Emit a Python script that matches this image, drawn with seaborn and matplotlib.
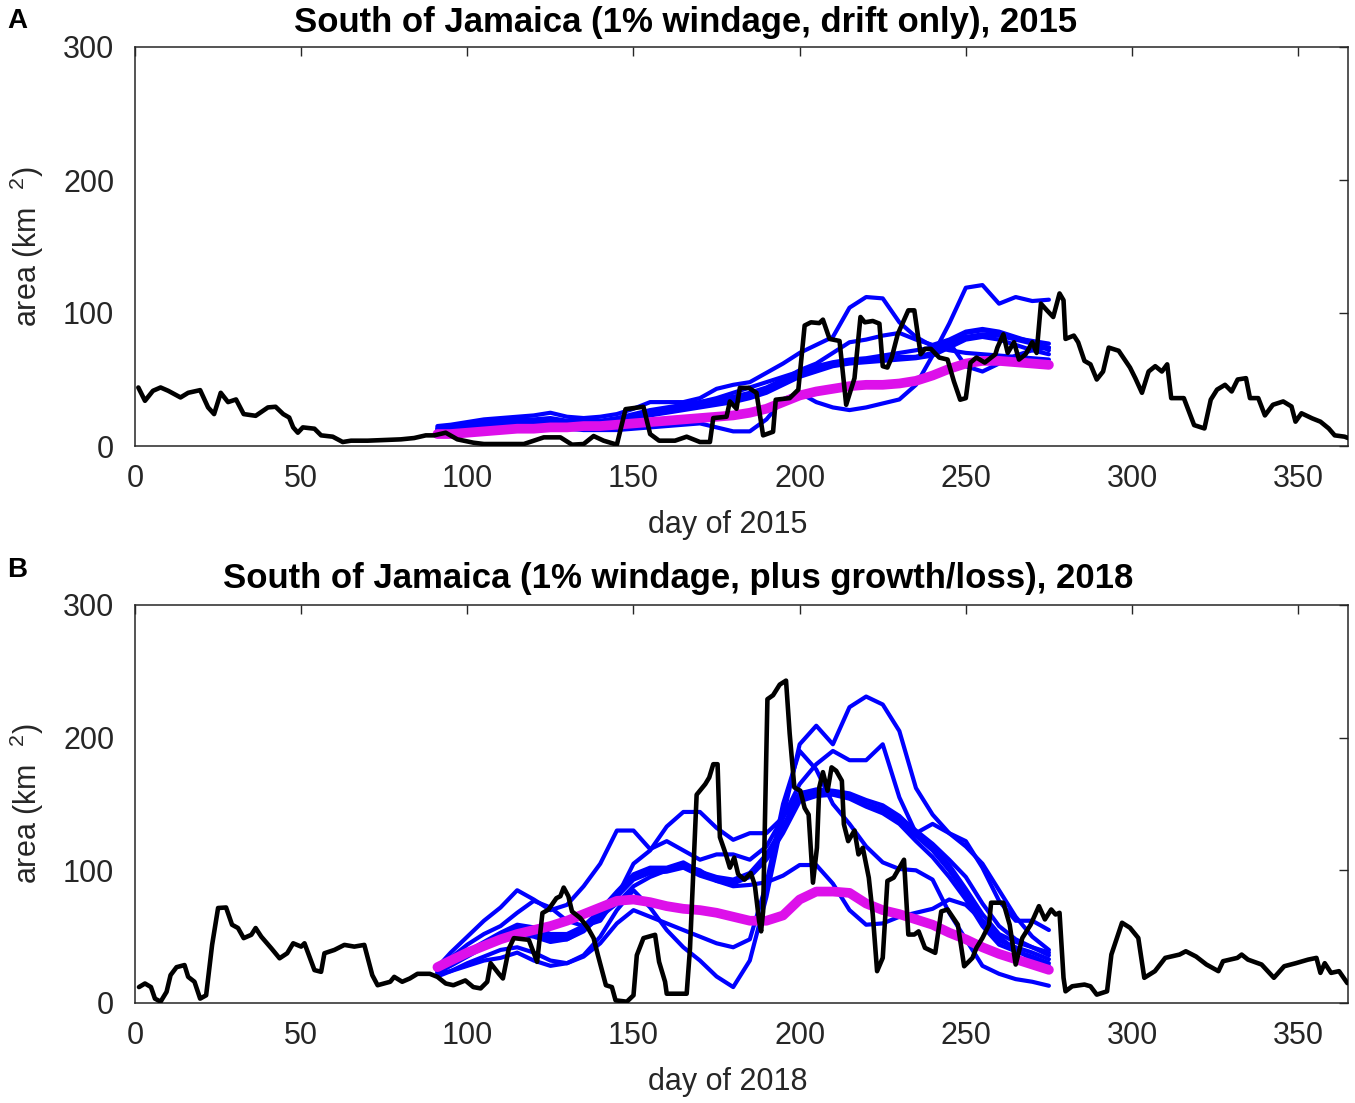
import matplotlib
matplotlib.use("Agg")
import matplotlib.pyplot as plt
import seaborn as sns

# ---------------- data ----------------
XTICKS = [0, 50, 100, 150, 200, 250, 300, 350]
YTICKS = [0, 100, 200, 300]
TITLE_A = "South of Jamaica (1% windage, drift only), 2015"
TITLE_B = "South of Jamaica (1% windage, plus growth/loss), 2018"
YEAR_A = 2015
YEAR_B = 2018

MODEL_DAYS = [91, 95, 100, 105, 110, 115, 120, 125, 130, 135, 140, 145, 150, 155, 160, 165, 170, 175, 180,
              185, 190, 195, 200, 205, 210, 215, 220, 225, 230, 235, 240, 245, 250, 255, 260, 265, 270, 275]

# Panel A: model ensemble members (blue)
A_run1 = [15, 16, 18, 20, 21, 22, 23, 25, 22, 21, 22, 24, 28, 33, 33, 33, 36, 43, 46, 48,
          55, 62, 70, 76, 82, 104, 112, 111, 93, 82, 75, 72, 70, 69, 68, 67, 66, 65]
A_run2 = [11, 11, 12, 12, 13, 13, 13, 14, 13, 12, 12, 12, 13, 14, 15, 16, 17, 14, 11, 11,
          20, 35, 40, 33, 29, 27, 29, 32, 35, 46, 68, 92, 119, 121, 107, 112, 109, 110]
A_run3 = [13, 14, 15, 16, 17, 18, 18, 19, 17, 17, 17, 19, 22, 26, 28, 30, 33, 36, 40, 44,
          48, 52, 56, 60, 63, 65, 66, 68, 70, 72, 74, 78, 60, 56, 62, 68, 72, 74]
A_run4 = [13, 14, 16, 17, 18, 19, 19, 20, 18, 18, 18, 20, 23, 26, 28, 30, 32, 34, 36, 38,
          42, 48, 55, 58, 62, 64, 65, 66, 67, 67, 70, 78, 85, 87, 85, 81, 79, 77]
A_run5 = [12, 13, 15, 16, 17, 18, 18, 19, 17, 17, 17, 19, 21, 24, 26, 28, 30, 32, 34, 37,
          41, 47, 53, 57, 61, 63, 64, 65, 66, 67, 69, 76, 82, 84, 83, 80, 77, 74]
A_run6 = [14, 15, 17, 18, 19, 20, 20, 21, 19, 19, 19, 21, 24, 27, 29, 31, 33, 35, 37, 40,
          44, 50, 57, 62, 70, 78, 80, 83, 85, 80, 76, 80, 86, 88, 86, 82, 78, 72]
A_run7 = [12, 13, 14, 15, 16, 17, 17, 18, 16, 16, 16, 18, 20, 23, 25, 27, 29, 31, 33, 36,
          40, 46, 52, 56, 60, 62, 63, 64, 65, 66, 68, 74, 80, 82, 80, 76, 72, 69]
# Panel A: ensemble mean (magenta)
A_mean = [9, 9, 10, 11, 12, 13, 13, 14, 14, 15, 15, 16, 17, 18, 19, 20, 21, 22, 23, 25,
          28, 33, 38, 41, 43, 45, 46, 46, 47, 49, 53, 58, 62, 64, 64, 63, 62, 61]

# Panel B: model ensemble members (blue)
B_run1 = [22, 24, 28, 32, 34, 38, 32, 28, 30, 36, 50, 70, 85, 72, 55, 42, 32, 20, 12, 32,
          80, 140, 195, 209, 195, 223, 231, 225, 205, 162, 142, 128, 122, 102, 77, 62, 62, 55]
B_run2 = [27, 38, 50, 62, 72, 85, 78, 70, 74, 88, 105, 130, 130, 116, 122, 115, 108, 112, 112, 108,
          118, 140, 165, 180, 190, 183, 183, 195, 155, 128, 135, 128, 118, 105, 85, 65, 50, 40]
B_run3 = [25, 34, 44, 52, 58, 68, 77, 72, 62, 58, 62, 80, 105, 115, 133, 144, 144, 132, 123, 128,
          128, 140, 158, 160, 158, 156, 150, 146, 140, 130, 120, 108, 95, 75, 58, 48, 42, 36]
B_run4 = [24, 30, 38, 45, 52, 58, 55, 50, 50, 56, 68, 82, 95, 100, 100, 104, 97, 93, 91, 96,
          110, 130, 155, 158, 158, 156, 150, 146, 138, 126, 115, 100, 82, 62, 47, 42, 38, 33]
B_run5 = [23, 29, 37, 44, 50, 56, 53, 48, 48, 54, 66, 80, 93, 98, 99, 102, 96, 92, 90, 95,
          108, 128, 152, 156, 157, 154, 148, 143, 135, 122, 110, 95, 78, 58, 44, 39, 35, 30]
B_run6 = [25, 31, 39, 46, 53, 59, 57, 52, 52, 58, 70, 84, 97, 102, 102, 106, 99, 95, 93, 98,
          112, 133, 158, 161, 160, 158, 153, 149, 141, 129, 118, 104, 86, 67, 52, 46, 42, 38]
B_run7 = [23, 28, 35, 42, 48, 52, 50, 46, 48, 55, 65, 75, 88, 95, 100, 104, 100, 92, 88, 89,
          91, 96, 104, 104, 90, 70, 59, 60, 65, 68, 71, 78, 74, 62, 50, 40, 33, 28]
B_run8 = [20, 24, 30, 35, 40, 42, 38, 32, 30, 35, 45, 60, 70, 65, 60, 55, 50, 45, 42, 48,
          90, 150, 190, 176, 150, 135, 118, 106, 101, 100, 93, 68, 48, 28, 22, 18, 16, 13]
# Panel B: ensemble mean (magenta)
B_mean = [27, 32, 38, 43, 48, 52, 55, 58, 62, 67, 72, 77, 78, 76, 73, 71, 70, 68, 65, 62,
          62, 66, 78, 84, 84, 83, 75, 70, 67, 63, 59, 53, 48, 42, 37, 33, 29, 25]

# Observed (satellite) area, black: (day, km2)
OBS_A = [(1, 44), (3, 34), (5.4, 41.5), (7.7, 44), (10, 41.5), (13.7, 36.5), (16, 40), (19.6, 42),
         (22, 29), (23.8, 24), (25.8, 40), (28, 33), (30.4, 35), (32.7, 24), (36.3, 22.7), (40, 29),
         (42.3, 29.5), (44.6, 24), (46.4, 21.4), (47.6, 14), (49, 10), (50.5, 14), (54, 13), (56, 8),
         (59.5, 7), (62.5, 3), (65, 4), (70, 4), (75, 4.5), (80, 5), (84, 6), (87.5, 8), (90, 8),
         (93.5, 10), (97, 5), (101.8, 2.5), (105, 1.5), (110, 1.5), (117, 1.5), (120, 4), (123, 6.5),
         (128, 6.5), (131.5, 1), (135, 1.5), (138, 7.5), (141, 4), (145, 1), (147.6, 27.7), (153, 29.5),
         (155, 9), (157.7, 4), (162.5, 4), (166, 7), (170, 3), (173, 3), (174, 21), (178, 22),
         (179, 33.5), (181, 28), (182, 43.7), (184.7, 43.7), (187, 40), (189, 8), (192, 10.7),
         (192.8, 34.8), (197, 36), (199.6, 42.4), (201.5, 90.6), (203.4, 93), (205.9, 92.4), (207, 95),
         (209, 80.5), (212, 79), (214, 31), (216.5, 51), (218.3, 97), (219.6, 93), (222, 94), (224, 92),
         (225, 60), (226.4, 59), (227.7, 66.5), (229.5, 84), (232.7, 102), (234.5, 102), (236.4, 69),
         (237.7, 73), (239.5, 73), (242, 66.5), (244.5, 65), (246.4, 48.7), (248.3, 34.8), (250, 36),
         (251.4, 62.7), (253.2, 66.5), (255.7, 62.7), (258.9, 69), (259.5, 74), (261.3, 84), (262.6, 70),
         (264.5, 78), (266, 65), (268, 69), (270, 78), (271.3, 70), (272.6, 107), (274.4, 102),
         (276.3, 97), (278.2, 114.7), (279.4, 109.6), (280, 80.5), (282.5, 83), (283.8, 78),
         (285.7, 64), (287.5, 61.4), (289.4, 50), (291.3, 56), (293, 74), (296, 71.6), (299.4, 59),
         (301, 51), (303, 40), (305, 56), (307, 60), (309, 56), (310.6, 61.4), (311.8, 36), (315.6, 36),
         (318.7, 15.7), (321.8, 13.2), (323.7, 34.8), (325.6, 42.4), (328, 46), (330, 41), (331.8, 50),
         (334.3, 51), (335.5, 36), (338, 36), (340, 23), (342.4, 31), (345.5, 33.5), (348, 29.7),
         (349.2, 18.3), (351, 24.6), (354.2, 20.8), (356.7, 18.3), (359.2, 13.2), (361, 8), (364, 7),
         (365, 6)]

OBS_B = [(1.2, 12), (3, 14.7), (4.8, 12), (6, 3.3), (7.7, 1), (9.5, 8.4), (10.7, 21), (12.5, 27),
         (14.9, 28.6), (16, 19.7), (17.9, 16), (19.6, 3.3), (21.4, 5.8), (23.2, 43.8), (25, 71.6),
         (27.4, 72), (29.2, 59), (31, 56.5), (32.7, 48.9), (35, 51.4), (36.3, 56.5), (38, 50),
         (41, 41.3), (43.5, 33.7), (45.8, 37.5), (47.6, 45), (50, 42.5), (51, 45), (54, 24.8),
         (56, 23.5), (57, 37.5), (60, 40), (63, 43.8), (66, 42.5), (69, 43.8), (71.4, 21), (73, 13.4),
         (76.8, 16), (78, 19.7), (80.4, 16), (82.7, 18.5), (85, 22), (88.7, 22), (91, 19.7),
         (93.5, 14.7), (95.8, 13.4), (99.4, 17), (101.8, 12), (104, 11), (106, 16), (107, 30),
         (109.5, 22), (110.7, 18.5), (112.5, 41), (114, 48.9), (118.5, 47.6), (121, 31), (122.6, 67.8),
         (124.4, 70.4), (126.8, 79), (128, 80.5), (129, 87), (130.4, 80.5), (131.5, 69), (134, 64),
         (136.3, 56.5), (138, 48.9), (139.3, 36), (141.7, 13.4), (143.5, 12), (144.6, 2), (148, 1),
         (150, 5.8), (151, 36), (153, 48.9), (156.5, 51.4), (157.7, 31), (159.5, 16), (160, 7),
         (166, 7), (167, 41), (169, 157), (171.6, 165), (172.8, 170), (174, 180), (175.3, 180),
         (176, 125), (177.8, 112), (179, 102), (180.3, 109.6), (181.5, 97), (183.4, 93), (185.3, 98),
         (186.5, 89), (187.8, 61.7), (188.4, 54), (189, 69), (190.3, 229), (192, 232), (194, 240),
         (195.9, 243), (197, 203), (198.4, 162.5), (200.2, 160), (201.5, 147), (202.7, 142),
         (204, 90.7), (205.2, 117), (205.9, 162.5), (207, 174), (208.4, 160), (209.6, 177.6),
         (211, 175), (212.7, 167.5), (213.3, 134.8), (214.6, 122), (216.5, 130), (217.7, 112),
         (219, 117), (220.8, 94.5), (222, 66.7), (223.3, 24), (225, 34), (226.4, 92), (228.3, 94.5),
         (231.4, 108), (232.7, 51.6), (234.5, 51.6), (235.8, 54), (237.7, 41.6), (240.8, 37.8),
         (242.6, 69), (244.5, 70.5), (247.6, 59), (249.5, 27.7), (252, 34), (253.2, 41.6), (255, 49),
         (257, 59), (257.6, 75.6), (261.3, 75.6), (263.2, 59), (265, 29), (267, 49), (269.5, 59),
         (272, 73), (273.8, 63), (275.7, 70.5), (277, 66.7), (278.2, 68), (279.4, 19), (280, 8.8),
         (282, 12.6), (285.7, 13.9), (287.5, 12.6), (289.4, 6.3), (292.5, 8.8), (293.8, 36.5),
         (297, 60.5), (299.4, 56.7), (301.9, 49), (303.7, 19), (306.9, 24), (310, 34), (314.3, 36.5),
         (316.2, 39), (319.3, 35), (322.4, 29), (326, 24), (327.4, 31.5), (331.7, 34), (333, 36.5),
         (334.9, 32.7), (339, 29), (342.7, 19), (345.8, 27.7), (349.3, 30), (353, 32.7), (355.5, 34),
         (356.7, 22.7), (358, 30), (359.9, 22.7), (362.3, 24), (364.8, 15)]

RUNS_A = [A_run1, A_run2, A_run3, A_run4, A_run5, A_run6, A_run7]
RUNS_B = [B_run1, B_run2, B_run3, B_run4, B_run5, B_run6, B_run7, B_run8]

# ---------------- style ----------------
BLUE = "#0000FF"
MAGENTA = "#DD10EA"
BLACK = "#000000"
AXC = "#262626"

sns.set_theme(style="white")
plt.rcParams["font.family"] = ["Liberation Sans", "DejaVu Sans"]
plt.rcParams["mathtext.default"] = "regular"

W, H = 1355, 1103
fig = plt.figure(figsize=(W / 100, H / 100), dpi=100)
axA = fig.add_axes([135 / W, 1 - 446 / H, 1213 / W, 399 / H])
axB = fig.add_axes([135 / W, 1 - 1003 / H, 1213 / W, 398 / H])


def draw(ax, runs, mean, obs, year):
    for r in runs:
        sns.lineplot(x=MODEL_DAYS, y=r, ax=ax, color=BLUE, linewidth=3.0, zorder=2, legend=False)
    sns.lineplot(x=MODEL_DAYS, y=mean, ax=ax, color=MAGENTA, linewidth=7.0, zorder=3, legend=False)
    d = [p[0] for p in obs]
    v = [p[1] for p in obs]
    sns.lineplot(x=d, y=v, ax=ax, color=BLACK, linewidth=3.3, zorder=4, legend=False)

    ax.set_xlim(0, 365)
    ax.set_ylim(0, 300)
    ax.set_xticks(XTICKS)
    ax.set_yticks(YTICKS)
    ax.tick_params(direction="in", length=6.5, width=1.0, top=True, right=True,
                   labelsize=22, colors=AXC)
    ax.tick_params(axis="x", pad=13)
    ax.tick_params(axis="y", pad=15)
    for sp in ax.spines.values():
        sp.set_visible(True)
        sp.set_color(AXC)
        sp.set_linewidth(1.1)
    ax.set_xlabel(f"day of {year}", fontsize=22, color=AXC)
    ax.set_ylabel("area (km  $^{2}$)", fontsize=22, color=AXC)
    ax.xaxis.set_label_coords(0.489, -0.16)
    ax.yaxis.set_label_coords(-0.073, 0.5)


draw(axA, RUNS_A, A_mean, OBS_A, YEAR_A)
draw(axB, RUNS_B, B_mean, OBS_B, YEAR_B)

fig.text(686 / W, 1 - 32 / H, TITLE_A, ha="center", va="baseline", fontsize=25,
         fontweight="bold", color="black")
fig.text(678 / W, 1 - 588 / H, TITLE_B, ha="center", va="baseline", fontsize=25,
         fontweight="bold", color="black")
fig.text(7 / W, 1 - 28 / H, "A", ha="left", va="baseline", fontsize=20, fontweight="bold", color="black")
fig.text(7 / W, 1 - 577 / H, "B", ha="left", va="baseline", fontsize=20, fontweight="bold", color="black")

fig.savefig("out.png", dpi=100)
